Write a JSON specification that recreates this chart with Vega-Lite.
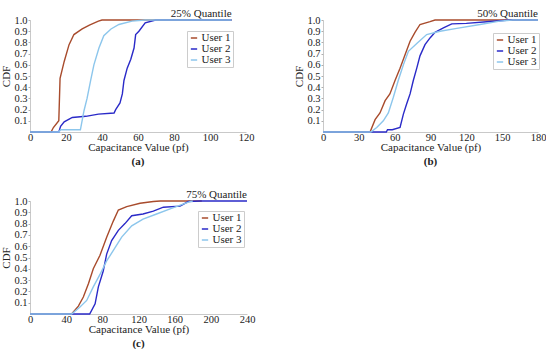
{
  "$schema": "https://vega.github.io/schema/vega-lite/v6.json",
  "background": "white",
  "padding": {"left": 0, "top": 8, "right": 0, "bottom": 0},
  "config": {
    "font": "Liberation Serif",
    "view": {"stroke": null},
    "axis": {
      "labelFont": "Liberation Serif", "titleFont": "Liberation Serif",
      "labelFontSize": 10.5, "titleFontSize": 11, "titleFontWeight": "normal",
      "labelColor": "#222", "titleColor": "#222",
      "domainColor": "#bbbbbb", "domainWidth": 0.8,
      "tickColor": "#999999", "tickSize": 2, "tickWidth": 0.8,
      "grid": false, "labelPadding": 1, "labelOverlap": false, "labelFlush": false
    },
    "legend": {
      "labelFont": "Liberation Serif", "labelFontSize": 11, "labelColor": "#222",
      "strokeColor": "#cccccc", "padding": 1.5, "rowPadding": -4,
      "symbolType": "stroke", "symbolSize": 40, "symbolStrokeWidth": 1.5,
      "labelOffset": 2
    },
    "title": {"font": "Liberation Serif", "fontSize": 11, "fontWeight": "bold", "color": "#222"},
    "text": {"font": "Liberation Serif"}
  },
  "datasets": {
    "a": [
      {"user": "User 1", "v": 0, "cdf": 0}, {"user": "User 1", "v": 11.7, "cdf": 0}, {"user": "User 1", "v": 13, "cdf": 0.04}, {"user": "User 1", "v": 16, "cdf": 0.1}, {"user": "User 1", "v": 16.7, "cdf": 0.48}, {"user": "User 1", "v": 19, "cdf": 0.63}, {"user": "User 1", "v": 21.7, "cdf": 0.78}, {"user": "User 1", "v": 24.4, "cdf": 0.87}, {"user": "User 1", "v": 29, "cdf": 0.92}, {"user": "User 1", "v": 33, "cdf": 0.955}, {"user": "User 1", "v": 38, "cdf": 0.99}, {"user": "User 1", "v": 40, "cdf": 1.0}, {"user": "User 1", "v": 112, "cdf": 1.0},
      {"user": "User 2", "v": 0, "cdf": 0}, {"user": "User 2", "v": 16, "cdf": 0}, {"user": "User 2", "v": 17, "cdf": 0.05}, {"user": "User 2", "v": 19, "cdf": 0.09}, {"user": "User 2", "v": 23.5, "cdf": 0.13}, {"user": "User 2", "v": 31, "cdf": 0.14}, {"user": "User 2", "v": 38, "cdf": 0.16}, {"user": "User 2", "v": 46.7, "cdf": 0.17}, {"user": "User 2", "v": 47.6, "cdf": 0.2}, {"user": "User 2", "v": 50, "cdf": 0.26}, {"user": "User 2", "v": 51.3, "cdf": 0.34}, {"user": "User 2", "v": 52.2, "cdf": 0.46}, {"user": "User 2", "v": 54, "cdf": 0.57}, {"user": "User 2", "v": 56, "cdf": 0.65}, {"user": "User 2", "v": 57.8, "cdf": 0.75}, {"user": "User 2", "v": 58.7, "cdf": 0.87}, {"user": "User 2", "v": 60.5, "cdf": 0.9}, {"user": "User 2", "v": 64, "cdf": 0.975}, {"user": "User 2", "v": 69.8, "cdf": 1.0}, {"user": "User 2", "v": 112, "cdf": 1.0},
      {"user": "User 3", "v": 0, "cdf": 0}, {"user": "User 3", "v": 16, "cdf": 0}, {"user": "User 3", "v": 17, "cdf": 0.02}, {"user": "User 3", "v": 28, "cdf": 0.02}, {"user": "User 3", "v": 30, "cdf": 0.19}, {"user": "User 3", "v": 31.7, "cdf": 0.3}, {"user": "User 3", "v": 33.7, "cdf": 0.46}, {"user": "User 3", "v": 35.5, "cdf": 0.6}, {"user": "User 3", "v": 38.3, "cdf": 0.75}, {"user": "User 3", "v": 41, "cdf": 0.86}, {"user": "User 3", "v": 45, "cdf": 0.92}, {"user": "User 3", "v": 49.4, "cdf": 0.96}, {"user": "User 3", "v": 56.7, "cdf": 0.99}, {"user": "User 3", "v": 64, "cdf": 1.0}, {"user": "User 3", "v": 112, "cdf": 1.0}
    ],
    "b": [
      {"user": "User 1", "v": 0, "cdf": 0}, {"user": "User 1", "v": 39.4, "cdf": 0}, {"user": "User 1", "v": 43.6, "cdf": 0.11}, {"user": "User 1", "v": 47.7, "cdf": 0.17}, {"user": "User 1", "v": 52, "cdf": 0.28}, {"user": "User 1", "v": 56, "cdf": 0.34}, {"user": "User 1", "v": 60.3, "cdf": 0.46}, {"user": "User 1", "v": 64.5, "cdf": 0.57}, {"user": "User 1", "v": 68.7, "cdf": 0.69}, {"user": "User 1", "v": 72.9, "cdf": 0.81}, {"user": "User 1", "v": 77, "cdf": 0.89}, {"user": "User 1", "v": 81.2, "cdf": 0.96}, {"user": "User 1", "v": 89.6, "cdf": 0.985}, {"user": "User 1", "v": 93.8, "cdf": 1.0}, {"user": "User 1", "v": 180, "cdf": 1.0},
      {"user": "User 2", "v": 0, "cdf": 0}, {"user": "User 2", "v": 53, "cdf": 0}, {"user": "User 2", "v": 54, "cdf": 0.02}, {"user": "User 2", "v": 58, "cdf": 0.02}, {"user": "User 2", "v": 64.5, "cdf": 0.04}, {"user": "User 2", "v": 67.3, "cdf": 0.16}, {"user": "User 2", "v": 70, "cdf": 0.25}, {"user": "User 2", "v": 72.9, "cdf": 0.34}, {"user": "User 2", "v": 75.6, "cdf": 0.46}, {"user": "User 2", "v": 78.5, "cdf": 0.57}, {"user": "User 2", "v": 81.2, "cdf": 0.68}, {"user": "User 2", "v": 85.4, "cdf": 0.78}, {"user": "User 2", "v": 89.6, "cdf": 0.84}, {"user": "User 2", "v": 93.8, "cdf": 0.89}, {"user": "User 2", "v": 100.8, "cdf": 0.93}, {"user": "User 2", "v": 107.8, "cdf": 0.965}, {"user": "User 2", "v": 120, "cdf": 0.97}, {"user": "User 2", "v": 137, "cdf": 0.985}, {"user": "User 2", "v": 156.6, "cdf": 1.0}, {"user": "User 2", "v": 180, "cdf": 1.0},
      {"user": "User 3", "v": 0, "cdf": 0}, {"user": "User 3", "v": 40, "cdf": 0}, {"user": "User 3", "v": 45, "cdf": 0.04}, {"user": "User 3", "v": 50.5, "cdf": 0.1}, {"user": "User 3", "v": 54.7, "cdf": 0.17}, {"user": "User 3", "v": 58.9, "cdf": 0.31}, {"user": "User 3", "v": 63, "cdf": 0.46}, {"user": "User 3", "v": 67.3, "cdf": 0.6}, {"user": "User 3", "v": 71.5, "cdf": 0.72}, {"user": "User 3", "v": 78.5, "cdf": 0.79}, {"user": "User 3", "v": 86.8, "cdf": 0.87}, {"user": "User 3", "v": 98, "cdf": 0.9}, {"user": "User 3", "v": 112, "cdf": 0.925}, {"user": "User 3", "v": 131.5, "cdf": 0.96}, {"user": "User 3", "v": 148, "cdf": 0.99}, {"user": "User 3", "v": 159, "cdf": 1.0}, {"user": "User 3", "v": 180, "cdf": 1.0}
    ],
    "c": [
      {"user": "User 1", "v": 0, "cdf": 0}, {"user": "User 1", "v": 46, "cdf": 0}, {"user": "User 1", "v": 53.5, "cdf": 0.07}, {"user": "User 1", "v": 59, "cdf": 0.15}, {"user": "User 1", "v": 64.7, "cdf": 0.27}, {"user": "User 1", "v": 70, "cdf": 0.4}, {"user": "User 1", "v": 77.4, "cdf": 0.52}, {"user": "User 1", "v": 84.8, "cdf": 0.68}, {"user": "User 1", "v": 92, "cdf": 0.82}, {"user": "User 1", "v": 97.7, "cdf": 0.92}, {"user": "User 1", "v": 107, "cdf": 0.95}, {"user": "User 1", "v": 121.7, "cdf": 0.98}, {"user": "User 1", "v": 136.4, "cdf": 0.995}, {"user": "User 1", "v": 144, "cdf": 1.0}, {"user": "User 1", "v": 190, "cdf": 1.0},
      {"user": "User 2", "v": 0, "cdf": 0}, {"user": "User 2", "v": 66, "cdf": 0}, {"user": "User 2", "v": 72, "cdf": 0.09}, {"user": "User 2", "v": 75.6, "cdf": 0.24}, {"user": "User 2", "v": 81, "cdf": 0.38}, {"user": "User 2", "v": 84.8, "cdf": 0.53}, {"user": "User 2", "v": 90.3, "cdf": 0.65}, {"user": "User 2", "v": 97.7, "cdf": 0.74}, {"user": "User 2", "v": 105, "cdf": 0.8}, {"user": "User 2", "v": 112.5, "cdf": 0.87}, {"user": "User 2", "v": 125, "cdf": 0.885}, {"user": "User 2", "v": 136.4, "cdf": 0.91}, {"user": "User 2", "v": 147.5, "cdf": 0.945}, {"user": "User 2", "v": 166, "cdf": 0.955}, {"user": "User 2", "v": 175, "cdf": 0.995}, {"user": "User 2", "v": 188, "cdf": 1.0}, {"user": "User 2", "v": 240, "cdf": 1.0},
      {"user": "User 3", "v": 0, "cdf": 0}, {"user": "User 3", "v": 46, "cdf": 0}, {"user": "User 3", "v": 55, "cdf": 0.06}, {"user": "User 3", "v": 62.7, "cdf": 0.12}, {"user": "User 3", "v": 70, "cdf": 0.24}, {"user": "User 3", "v": 77.4, "cdf": 0.35}, {"user": "User 3", "v": 84.8, "cdf": 0.47}, {"user": "User 3", "v": 92, "cdf": 0.56}, {"user": "User 3", "v": 101.4, "cdf": 0.68}, {"user": "User 3", "v": 112.5, "cdf": 0.78}, {"user": "User 3", "v": 125, "cdf": 0.84}, {"user": "User 3", "v": 140, "cdf": 0.885}, {"user": "User 3", "v": 155, "cdf": 0.93}, {"user": "User 3", "v": 170, "cdf": 0.975}, {"user": "User 3", "v": 177, "cdf": 0.995}, {"user": "User 3", "v": 180, "cdf": 1.0}
    ]
  },
  "columns": 2,
  "bounds": "flush",
  "spacing": {"column": 76, "row": 69},
  "resolve": {"scale": {"x": "independent", "y": "independent", "color": "independent"}, "legend": {"color": "independent"}},
  "concat": [
    {
      "width": 216, "height": 112,
      "title": {"text": "(a)", "orient": "bottom", "offset": 3},
      "encoding": {
        "x": {"field": "v", "type": "quantitative", "scale": {"domain": [0, 120], "nice": false}, "axis": {"values": [0, 20, 40, 60, 80, 100, 120], "title": "Capacitance Value (pf)", "titlePadding": -1, "ticks": false, "labelPadding": 0, "labelOverlap": false, "labelFlush": false}},
        "y": {"field": "cdf", "type": "quantitative", "scale": {"domain": [0, 1], "nice": false}, "axis": {"values": [0.1, 0.2, 0.3, 0.4, 0.5, 0.6, 0.7, 0.8, 0.9, 1.0], "format": ".1f", "title": "CDF", "titlePadding": 2, "labelOverlap": false, "labelFlush": false}}
      },
      "layer": [
        {
          "data": {"name": "a"},
          "mark": {"type": "line", "strokeWidth": 1.4},
          "encoding": {
            "color": {"field": "user", "type": "nominal", "scale": {"domain": ["User 1", "User 2", "User 3"], "range": ["#A84B2C", "#2A2AC8", "#8CC6EC"]}, "legend": {"title": null, "orient": "none", "legendX": 157, "legendY": 11}}
          }
        },
        {
          "data": {"values": [{"label": "25% Quantile", "v": 112, "cdf": 1}]},
          "mark": {"type": "text", "align": "right", "baseline": "bottom", "dy": -1, "fontSize": 11, "font": "Liberation Serif", "color": "#222"},
          "encoding": {"text": {"field": "label"}}
        }
      ]
    },
    {
      "width": 215, "height": 112,
      "title": {"text": "(b)", "orient": "bottom", "offset": 3},
      "encoding": {
        "x": {"field": "v", "type": "quantitative", "scale": {"domain": [0, 180], "nice": false}, "axis": {"values": [0, 30, 60, 90, 120, 150, 180], "title": "Capacitance Value (pf)", "titlePadding": -1, "ticks": false, "labelPadding": 0, "labelOverlap": false, "labelFlush": false}},
        "y": {"field": "cdf", "type": "quantitative", "scale": {"domain": [0, 1], "nice": false}, "axis": {"values": [0.1, 0.2, 0.3, 0.4, 0.5, 0.6, 0.7, 0.8, 0.9, 1.0], "format": ".1f", "title": "CDF", "titlePadding": 2, "labelOverlap": false, "labelFlush": false}}
      },
      "layer": [
        {
          "data": {"name": "b"},
          "mark": {"type": "line", "strokeWidth": 1.4},
          "encoding": {
            "color": {"field": "user", "type": "nominal", "scale": {"domain": ["User 1", "User 2", "User 3"], "range": ["#A84B2C", "#2A2AC8", "#8CC6EC"]}, "legend": {"title": null, "orient": "none", "legendX": 170, "legendY": 13}}
          }
        },
        {
          "data": {"values": [{"label": "50% Quantile", "v": 180, "cdf": 1}]},
          "mark": {"type": "text", "align": "right", "baseline": "bottom", "dy": -1, "fontSize": 11, "font": "Liberation Serif", "color": "#222"},
          "encoding": {"text": {"field": "label"}}
        }
      ]
    },
    {
      "width": 217, "height": 113,
      "title": {"text": "(c)", "orient": "bottom", "offset": 3},
      "encoding": {
        "x": {"field": "v", "type": "quantitative", "scale": {"domain": [0, 240], "nice": false}, "axis": {"values": [0, 40, 80, 120, 160, 200, 240], "title": "Capacitance Value (pf)", "titlePadding": -1, "ticks": false, "labelPadding": 0, "labelOverlap": false, "labelFlush": false}},
        "y": {"field": "cdf", "type": "quantitative", "scale": {"domain": [0, 1], "nice": false}, "axis": {"values": [0.1, 0.2, 0.3, 0.4, 0.5, 0.6, 0.7, 0.8, 0.9, 1.0], "format": ".1f", "title": "CDF", "titlePadding": 2, "labelOverlap": false, "labelFlush": false}}
      },
      "layer": [
        {
          "data": {"name": "c"},
          "mark": {"type": "line", "strokeWidth": 1.4},
          "encoding": {
            "color": {"field": "user", "type": "nominal", "scale": {"domain": ["User 1", "User 2", "User 3"], "range": ["#A84B2C", "#2A2AC8", "#8CC6EC"]}, "legend": {"title": null, "orient": "none", "legendX": 168, "legendY": 10}}
          }
        },
        {
          "data": {"values": [{"label": "75% Quantile", "v": 240, "cdf": 1}]},
          "mark": {"type": "text", "align": "right", "baseline": "bottom", "dy": -1, "fontSize": 11, "font": "Liberation Serif", "color": "#222"},
          "encoding": {"text": {"field": "label"}}
        }
      ]
    }
  ]
}
